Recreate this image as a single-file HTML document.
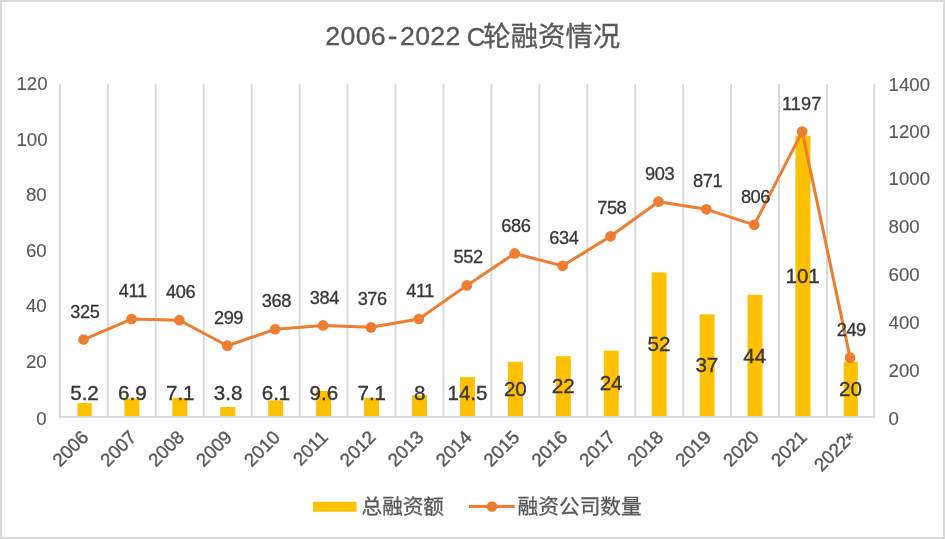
<!DOCTYPE html>
<html><head><meta charset="utf-8"><title>2006-2022 C轮融资情况</title>
<style>
html,body{margin:0;padding:0;background:#fff;}
body{width:945px;height:539px;overflow:hidden;font-family:"Liberation Sans",sans-serif;}
svg{display:block;will-change:transform;}
</style></head><body>
<svg role="img" aria-label="2006-2022 C轮融资情况" width="945" height="539" viewBox="0 0 945 539" font-family="'Liberation Sans', sans-serif">
<rect x="0" y="0" width="945" height="539" fill="#fff"/>
<rect x="1" y="1" width="943" height="537" fill="none" stroke="#d9d9d9" stroke-width="2"/>
<line x1="59.9" y1="84" x2="59.9" y2="416.8" stroke="#d6d6d6" stroke-width="1.8"/>
<line x1="107.84" y1="84" x2="107.84" y2="416.8" stroke="#d6d6d6" stroke-width="1.8"/>
<line x1="155.79" y1="84" x2="155.79" y2="416.8" stroke="#d6d6d6" stroke-width="1.8"/>
<line x1="203.73" y1="84" x2="203.73" y2="416.8" stroke="#d6d6d6" stroke-width="1.8"/>
<line x1="251.68" y1="84" x2="251.68" y2="416.8" stroke="#d6d6d6" stroke-width="1.8"/>
<line x1="299.62" y1="84" x2="299.62" y2="416.8" stroke="#d6d6d6" stroke-width="1.8"/>
<line x1="347.56" y1="84" x2="347.56" y2="416.8" stroke="#d6d6d6" stroke-width="1.8"/>
<line x1="395.51" y1="84" x2="395.51" y2="416.8" stroke="#d6d6d6" stroke-width="1.8"/>
<line x1="443.45" y1="84" x2="443.45" y2="416.8" stroke="#d6d6d6" stroke-width="1.8"/>
<line x1="491.4" y1="84" x2="491.4" y2="416.8" stroke="#d6d6d6" stroke-width="1.8"/>
<line x1="539.34" y1="84" x2="539.34" y2="416.8" stroke="#d6d6d6" stroke-width="1.8"/>
<line x1="587.28" y1="84" x2="587.28" y2="416.8" stroke="#d6d6d6" stroke-width="1.8"/>
<line x1="635.23" y1="84" x2="635.23" y2="416.8" stroke="#d6d6d6" stroke-width="1.8"/>
<line x1="683.17" y1="84" x2="683.17" y2="416.8" stroke="#d6d6d6" stroke-width="1.8"/>
<line x1="731.12" y1="84" x2="731.12" y2="416.8" stroke="#d6d6d6" stroke-width="1.8"/>
<line x1="779.06" y1="84" x2="779.06" y2="416.8" stroke="#d6d6d6" stroke-width="1.8"/>
<line x1="827" y1="84" x2="827" y2="416.8" stroke="#d6d6d6" stroke-width="1.8"/>
<line x1="874.2" y1="84" x2="874.2" y2="416.8" stroke="#d6d6d6" stroke-width="1.8"/>
<rect x="77.4" y="403.09" width="14.3" height="13.71" fill="#ffc000"/>
<rect x="124.43" y="398.35" width="15" height="18.45" fill="#ffc000"/>
<rect x="172.36" y="397.79" width="15" height="19.01" fill="#ffc000"/>
<rect x="220.29" y="407" width="15" height="9.8" fill="#ffc000"/>
<rect x="268.22" y="400.58" width="15" height="16.22" fill="#ffc000"/>
<rect x="316.15" y="390.82" width="15" height="25.98" fill="#ffc000"/>
<rect x="364.08" y="397.79" width="15" height="19.01" fill="#ffc000"/>
<rect x="412.01" y="395.28" width="15" height="21.52" fill="#ffc000"/>
<rect x="459.94" y="377.15" width="15" height="39.65" fill="#ffc000"/>
<rect x="507.87" y="361.8" width="15" height="55" fill="#ffc000"/>
<rect x="555.8" y="356.22" width="15" height="60.58" fill="#ffc000"/>
<rect x="603.73" y="350.64" width="15" height="66.16" fill="#ffc000"/>
<rect x="651.66" y="272.52" width="15" height="144.28" fill="#ffc000"/>
<rect x="699.59" y="314.37" width="15" height="102.43" fill="#ffc000"/>
<rect x="747.52" y="294.84" width="15" height="121.96" fill="#ffc000"/>
<rect x="795.45" y="135.81" width="15" height="280.99" fill="#ffc000"/>
<rect x="843.7" y="361.8" width="14.1" height="55" fill="#ffc000"/>
<line x1="59" y1="416.8" x2="875.1" y2="416.8" stroke="#d4d4d6" stroke-width="1.8"/>
<polyline fill="none" stroke="#ed7d31" stroke-width="3" stroke-linejoin="round" stroke-linecap="round" points="83.6,339.51 131.5,319.01 179.41,320.2 227.31,345.71 275.22,329.26 323.12,325.45 371.03,327.35 418.94,319.01 466.84,285.39 514.75,253.44 562.65,265.84 610.56,236.28 658.46,201.71 706.37,209.34 754.27,224.83 802.18,131.61 850.08,357.63"/>
<circle cx="83.6" cy="339.51" r="5.35" fill="#ed7d31"/>
<circle cx="131.5" cy="319.01" r="5.35" fill="#ed7d31"/>
<circle cx="179.41" cy="320.2" r="5.35" fill="#ed7d31"/>
<circle cx="227.31" cy="345.71" r="5.35" fill="#ed7d31"/>
<circle cx="275.22" cy="329.26" r="5.35" fill="#ed7d31"/>
<circle cx="323.12" cy="325.45" r="5.35" fill="#ed7d31"/>
<circle cx="371.03" cy="327.35" r="5.35" fill="#ed7d31"/>
<circle cx="418.94" cy="319.01" r="5.35" fill="#ed7d31"/>
<circle cx="466.84" cy="285.39" r="5.35" fill="#ed7d31"/>
<circle cx="514.75" cy="253.44" r="5.35" fill="#ed7d31"/>
<circle cx="562.65" cy="265.84" r="5.35" fill="#ed7d31"/>
<circle cx="610.56" cy="236.28" r="5.35" fill="#ed7d31"/>
<circle cx="658.46" cy="201.71" r="5.35" fill="#ed7d31"/>
<circle cx="706.37" cy="209.34" r="5.35" fill="#ed7d31"/>
<circle cx="754.27" cy="224.83" r="5.35" fill="#ed7d31"/>
<circle cx="802.18" cy="131.61" r="5.35" fill="#ed7d31"/>
<circle cx="850.08" cy="357.63" r="5.35" fill="#ed7d31"/>
<text x="84.5" y="400.3" font-size="20.6" fill="#363636" stroke="#363636" stroke-width="0.35" text-anchor="middle">5.2</text>
<text x="132.38" y="400.3" font-size="20.6" fill="#363636" stroke="#363636" stroke-width="0.35" text-anchor="middle">6.9</text>
<text x="180.25" y="400.3" font-size="20.6" fill="#363636" stroke="#363636" stroke-width="0.35" text-anchor="middle">7.1</text>
<text x="228.12" y="400.3" font-size="20.6" fill="#363636" stroke="#363636" stroke-width="0.35" text-anchor="middle">3.8</text>
<text x="276" y="400.3" font-size="20.6" fill="#363636" stroke="#363636" stroke-width="0.35" text-anchor="middle">6.1</text>
<text x="323.88" y="400.3" font-size="20.6" fill="#363636" stroke="#363636" stroke-width="0.35" text-anchor="middle">9.6</text>
<text x="371.75" y="400.3" font-size="20.6" fill="#363636" stroke="#363636" stroke-width="0.35" text-anchor="middle">7.1</text>
<text x="419.62" y="400.3" font-size="20.6" fill="#363636" stroke="#363636" stroke-width="0.35" text-anchor="middle">8</text>
<text x="467.5" y="400.3" font-size="20.6" fill="#363636" stroke="#363636" stroke-width="0.35" text-anchor="middle">14.5</text>
<text x="515.38" y="396" font-size="20.6" fill="#363636" stroke="#363636" stroke-width="0.35" text-anchor="middle">20</text>
<text x="563.25" y="393.21" font-size="20.6" fill="#363636" stroke="#363636" stroke-width="0.35" text-anchor="middle">22</text>
<text x="611.12" y="390.42" font-size="20.6" fill="#363636" stroke="#363636" stroke-width="0.35" text-anchor="middle">24</text>
<text x="659" y="351.36" font-size="20.6" fill="#363636" stroke="#363636" stroke-width="0.35" text-anchor="middle">52</text>
<text x="706.88" y="372.29" font-size="20.6" fill="#363636" stroke="#363636" stroke-width="0.35" text-anchor="middle">37</text>
<text x="754.75" y="362.52" font-size="20.6" fill="#363636" stroke="#363636" stroke-width="0.35" text-anchor="middle">44</text>
<text x="802.62" y="283" font-size="20.6" fill="#363636" stroke="#363636" stroke-width="0.35" text-anchor="middle">101</text>
<text x="850.5" y="396" font-size="20.6" fill="#363636" stroke="#363636" stroke-width="0.35" text-anchor="middle">20</text>
<text x="84.8" y="317.61" font-size="18.2" letter-spacing="-0.4" fill="#363636" stroke="#363636" stroke-width="0.3" text-anchor="middle">325</text>
<text x="132.7" y="297.11" font-size="18.2" letter-spacing="-0.4" fill="#363636" stroke="#363636" stroke-width="0.3" text-anchor="middle">411</text>
<text x="180.61" y="298.3" font-size="18.2" letter-spacing="-0.4" fill="#363636" stroke="#363636" stroke-width="0.3" text-anchor="middle">406</text>
<text x="228.51" y="323.81" font-size="18.2" letter-spacing="-0.4" fill="#363636" stroke="#363636" stroke-width="0.3" text-anchor="middle">299</text>
<text x="276.42" y="307.36" font-size="18.2" letter-spacing="-0.4" fill="#363636" stroke="#363636" stroke-width="0.3" text-anchor="middle">368</text>
<text x="324.32" y="303.55" font-size="18.2" letter-spacing="-0.4" fill="#363636" stroke="#363636" stroke-width="0.3" text-anchor="middle">384</text>
<text x="372.23" y="305.45" font-size="18.2" letter-spacing="-0.4" fill="#363636" stroke="#363636" stroke-width="0.3" text-anchor="middle">376</text>
<text x="420.14" y="297.11" font-size="18.2" letter-spacing="-0.4" fill="#363636" stroke="#363636" stroke-width="0.3" text-anchor="middle">411</text>
<text x="468.04" y="263.49" font-size="18.2" letter-spacing="-0.4" fill="#363636" stroke="#363636" stroke-width="0.3" text-anchor="middle">552</text>
<text x="515.95" y="231.54" font-size="18.2" letter-spacing="-0.4" fill="#363636" stroke="#363636" stroke-width="0.3" text-anchor="middle">686</text>
<text x="563.85" y="243.94" font-size="18.2" letter-spacing="-0.4" fill="#363636" stroke="#363636" stroke-width="0.3" text-anchor="middle">634</text>
<text x="611.76" y="214.38" font-size="18.2" letter-spacing="-0.4" fill="#363636" stroke="#363636" stroke-width="0.3" text-anchor="middle">758</text>
<text x="659.66" y="179.81" font-size="18.2" letter-spacing="-0.4" fill="#363636" stroke="#363636" stroke-width="0.3" text-anchor="middle">903</text>
<text x="707.57" y="187.44" font-size="18.2" letter-spacing="-0.4" fill="#363636" stroke="#363636" stroke-width="0.3" text-anchor="middle">871</text>
<text x="755.47" y="202.93" font-size="18.2" letter-spacing="-0.4" fill="#363636" stroke="#363636" stroke-width="0.3" text-anchor="middle">806</text>
<text x="801.68" y="109.71" font-size="18.2" letter-spacing="0.1" fill="#363636" stroke="#363636" stroke-width="0.3" text-anchor="middle">1197</text>
<text x="851.28" y="335.73" font-size="18.2" letter-spacing="-0.4" fill="#363636" stroke="#363636" stroke-width="0.3" text-anchor="middle">249</text>
<text x="46.7" y="424.6" font-size="18.67" fill="#595959" stroke="#595959" stroke-width="0.15" text-anchor="end">0</text>
<text x="46.7" y="368.2" font-size="18.67" fill="#595959" stroke="#595959" stroke-width="0.15" text-anchor="end">20</text>
<text x="46.7" y="312.4" font-size="18.67" fill="#595959" stroke="#595959" stroke-width="0.15" text-anchor="end">40</text>
<text x="46.7" y="256.7" font-size="18.67" fill="#595959" stroke="#595959" stroke-width="0.15" text-anchor="end">60</text>
<text x="46.7" y="201.2" font-size="18.67" fill="#595959" stroke="#595959" stroke-width="0.15" text-anchor="end">80</text>
<text x="47.6" y="145.7" font-size="18.67" fill="#595959" stroke="#595959" stroke-width="0.15" text-anchor="end">100</text>
<text x="47.6" y="90.35" font-size="18.67" fill="#595959" stroke="#595959" stroke-width="0.15" text-anchor="end">120</text>
<text x="888.6" y="424.6" font-size="18.67" fill="#595959" stroke="#595959" stroke-width="0.15">0</text>
<text x="888.6" y="376.8" font-size="18.67" fill="#595959" stroke="#595959" stroke-width="0.15">200</text>
<text x="888.6" y="328.9" font-size="18.67" fill="#595959" stroke="#595959" stroke-width="0.15">400</text>
<text x="888.6" y="281.3" font-size="18.67" fill="#595959" stroke="#595959" stroke-width="0.15">600</text>
<text x="888.6" y="233.1" font-size="18.67" fill="#595959" stroke="#595959" stroke-width="0.15">800</text>
<text x="888.6" y="185.3" font-size="18.67" fill="#595959" stroke="#595959" stroke-width="0.15">1000</text>
<text x="888.6" y="138.3" font-size="18.67" fill="#595959" stroke="#595959" stroke-width="0.15">1200</text>
<text x="888.6" y="90.6" font-size="18.67" fill="#595959" stroke="#595959" stroke-width="0.15">1400</text>
<text transform="translate(89.5 438.3) rotate(-45)" font-size="18.67" fill="#595959" stroke="#595959" stroke-width="0.4" text-anchor="end">2006</text>
<text transform="translate(137.41 438.3) rotate(-45)" font-size="18.67" fill="#595959" stroke="#595959" stroke-width="0.4" text-anchor="end">2007</text>
<text transform="translate(185.31 438.3) rotate(-45)" font-size="18.67" fill="#595959" stroke="#595959" stroke-width="0.4" text-anchor="end">2008</text>
<text transform="translate(233.22 438.3) rotate(-45)" font-size="18.67" fill="#595959" stroke="#595959" stroke-width="0.4" text-anchor="end">2009</text>
<text transform="translate(281.12 438.3) rotate(-45)" font-size="18.67" fill="#595959" stroke="#595959" stroke-width="0.4" text-anchor="end">2010</text>
<text transform="translate(329.02 438.3) rotate(-45)" font-size="18.67" fill="#595959" stroke="#595959" stroke-width="0.4" text-anchor="end">2011</text>
<text transform="translate(376.93 438.3) rotate(-45)" font-size="18.67" fill="#595959" stroke="#595959" stroke-width="0.4" text-anchor="end">2012</text>
<text transform="translate(424.84 438.3) rotate(-45)" font-size="18.67" fill="#595959" stroke="#595959" stroke-width="0.4" text-anchor="end">2013</text>
<text transform="translate(472.74 438.3) rotate(-45)" font-size="18.67" fill="#595959" stroke="#595959" stroke-width="0.4" text-anchor="end">2014</text>
<text transform="translate(520.64 438.3) rotate(-45)" font-size="18.67" fill="#595959" stroke="#595959" stroke-width="0.4" text-anchor="end">2015</text>
<text transform="translate(568.55 438.3) rotate(-45)" font-size="18.67" fill="#595959" stroke="#595959" stroke-width="0.4" text-anchor="end">2016</text>
<text transform="translate(616.46 438.3) rotate(-45)" font-size="18.67" fill="#595959" stroke="#595959" stroke-width="0.4" text-anchor="end">2017</text>
<text transform="translate(664.36 438.3) rotate(-45)" font-size="18.67" fill="#595959" stroke="#595959" stroke-width="0.4" text-anchor="end">2018</text>
<text transform="translate(712.26 438.3) rotate(-45)" font-size="18.67" fill="#595959" stroke="#595959" stroke-width="0.4" text-anchor="end">2019</text>
<text transform="translate(760.17 438.3) rotate(-45)" font-size="18.67" fill="#595959" stroke="#595959" stroke-width="0.4" text-anchor="end">2020</text>
<text transform="translate(808.08 438.3) rotate(-45)" font-size="18.67" fill="#595959" stroke="#595959" stroke-width="0.4" text-anchor="end">2021</text>
<text transform="translate(855.98 438.3) rotate(-45)" font-size="18.67" fill="#595959" stroke="#595959" stroke-width="0.4" text-anchor="end">2022<tspan dx="-0.3" dy="3.4">*</tspan></text>
<text x="325.3" y="45.1" font-size="26.67" letter-spacing="0.35" fill="#595959" stroke="#595959" stroke-width="0.35">2006</text>
<text x="387.7" y="46.1" font-size="29" fill="#595959" stroke="#595959" stroke-width="0.35">-</text>
<text x="400.0" y="45.1" font-size="26.67" letter-spacing="0.35" fill="#595959" stroke="#595959" stroke-width="0.35">2022</text>
<text x="466.8" y="45.6" font-size="25.7" font-family="'Liberation Sans', 'Noto Sans CJK SC', sans-serif" fill="#595959" stroke="#595959" stroke-width="0.35">C</text>
<text x="483.3" y="46.1" font-size="27.4" font-family="'Liberation Sans', 'Noto Sans CJK SC', sans-serif" fill="#595959" stroke="#595959" stroke-width="0.35">轮融资情况</text>
<rect x="313" y="501.8" width="43.6" height="9.9" fill="#ffc000"/>
<text x="361.6" y="514.3" font-size="20.6" font-family="'Liberation Sans', 'Noto Sans CJK SC', sans-serif" fill="#595959" stroke="#595959" stroke-width="0.3">总融资额</text>
<line x1="469" y1="506.5" x2="514.7" y2="506.5" stroke="#ed7d31" stroke-width="3"/>
<circle cx="492" cy="506.5" r="5.35" fill="#ed7d31"/>
<text x="517.6" y="514.4" font-size="20.7" font-family="'Liberation Sans', 'Noto Sans CJK SC', sans-serif" fill="#595959" stroke="#595959" stroke-width="0.3">融资公司数量</text>
</svg>
</body></html>
